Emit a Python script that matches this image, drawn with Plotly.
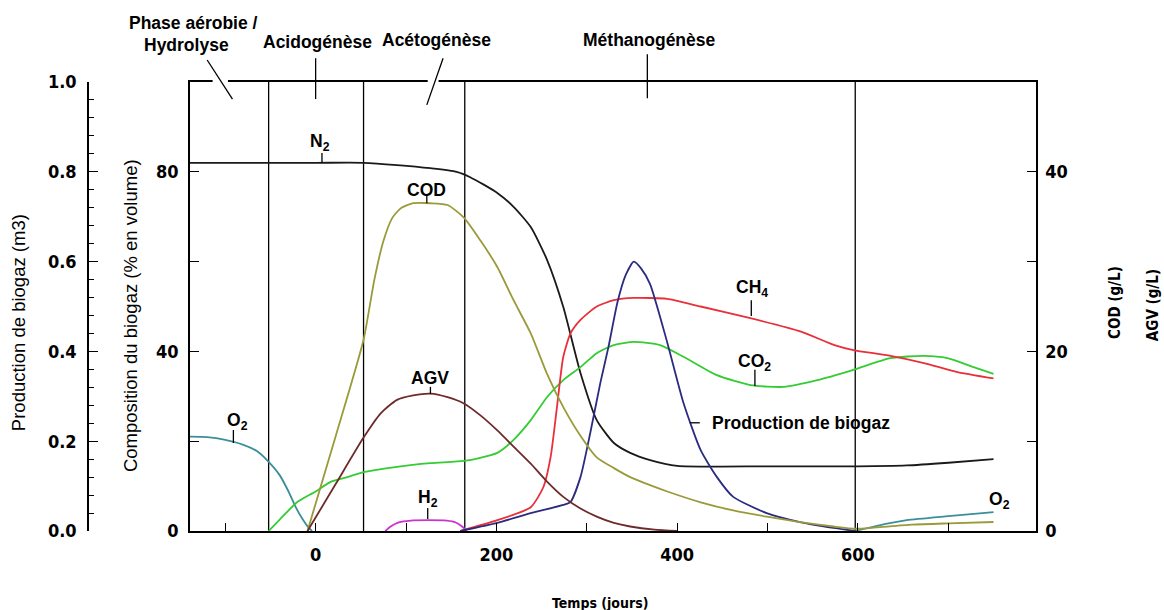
"""Évolution du biogaz dans un casier de décharge"""
import plotly.graph_objects as go

# --- données ---
temps_n2 = [-139, 0, 53, 90, 127, 156, 171, 201, 219, 238, 256, 274, 293, 311, 330, 348, 370, 400, 500, 600, 654, 700, 750]
n2 = [82, 82, 82, 81.5, 80.8, 80, 78.8, 75.3, 72.2, 67.7, 60.4, 49.9, 35.2, 24.7, 19.6, 17.4, 15.8, 14.5, 14.4, 14.4, 14.6, 15.2, 16]

temps_o2 = [-139, -120, -100, -80, -65, -52, -40, -30, -22, -14, -8, -4, None, 597, 620, 654, 700, 750]
o2 = [21, 20.9, 20.3, 19.2, 17.8, 15.4, 12.5, 8.8, 5.3, 2.5, 0.8, 0, None, 0, 1.1, 2.4, 3.3, 4.2]

temps_co2 = [-52, -40, -20, 0, 16, 35, 53, 90, 127, 164, 182, 201, 219, 238, 256, 274, 293, 311, 330, 352,
             381, 407, 444, 481, 518, 555, 595, 636, 673, 699, 728, 750]
co2 = [0, 2.5, 6.5, 8.8, 10.9, 12, 13.1, 14.3, 15.1, 15.6, 16.3, 17.4, 20.3, 24.7, 29.8, 33.6, 36.5, 39.6, 41.4, 42.1,
       41.4, 38.8, 34.7, 32.5, 32.1, 33.6, 35.9, 38.5, 39, 38.5, 36.5, 35]

temps_ch4 = [160, 201, 238, 252, 260, 267, 274, 282, 293, 311, 330, 352, 389, 426, 481, 537, 574, 595, 636, 673, 710, 750]
ch4 = [0, 2.4, 5.3, 9.8, 16.5, 27.6, 38.8, 44, 47, 50, 51.4, 51.9, 51.7, 50, 47.4, 44.4, 41.4, 40.3, 39, 37.4, 35.4, 34]

temps_h2 = [77, 83, 92, 105, 125, 145, 155, 162, 167]
h2 = [0, 1.0, 1.9, 2.3, 2.4, 2.3, 1.9, 1.0, 0]

temps_cod = [-9, 22, 53, 65, 75, 85, 95, 108, 127, 146, 164, 182, 201, 219, 238, 256, 274, 293, 311, 330, 348,
             370, 389, 426, 462, 499, 536, 573, 597, 620, 660, 700, 750]
cod = [0, 10.5, 21.3, 28, 32.3, 34.9, 36, 36.5, 36.5, 36.3, 34.9, 32.4, 29.4, 25.7, 22, 17.5, 13.8, 10.6, 8.2, 7.0, 6.0,
       5.1, 4.4, 3.2, 2.3, 1.6, 1.0, 0.5, 0.25, 0.4, 0.7, 0.85, 1.0]

temps_agv = [-9, 22, 53, 72, 90, 108, 127, 146, 164, 182, 201, 219, 238, 256, 274, 293, 311, 330, 348, 375, 400]
agv = [0, 5.2, 10.4, 13.1, 14.6, 15.1, 15.3, 14.9, 14.2, 12.9, 11.2, 9.4, 7.5, 5.5, 3.8, 2.5, 1.6, 0.9, 0.5, 0.15, 0]

temps_prod = [160, 201, 238, 274, 282, 293, 304, 315, 324, 334, 343, 352, 360, 370, 389, 407, 426, 444, 462, 499, 536, 573, 597]
production = [0, 0.018, 0.04, 0.058, 0.065, 0.12, 0.22, 0.33, 0.41, 0.51, 0.57, 0.6, 0.585, 0.55, 0.42, 0.285, 0.18,
              0.12, 0.076, 0.04, 0.02, 0.007, 0]

limites_phases = [-52, 53, 165, 597]

NARROW = "DejaVu Sans Condensed, Liberation Sans Narrow, Arial Narrow, sans-serif"
SANS = "Liberation Sans, Arial, sans-serif"
TICKFONT = dict(family=NARROW, size=18, color="black", weight="bold")

fig = go.Figure()


def courbe(x, y, color, axis="y", width=1.8):
    fig.add_trace(go.Scatter(
        x=x, y=y, mode="lines", yaxis=axis, showlegend=False, hoverinfo="skip",
        line=dict(color=color, width=width, shape="spline", smoothing=0.6),
        connectgaps=False,
    ))


courbe(temps_n2, n2, "#1a1a1a")
courbe(temps_o2, o2, "#3a8f9a")
courbe(temps_co2, co2, "#33cc33")
courbe(temps_ch4, ch4, "#e8303a")
courbe(temps_h2, h2, "#cc33cc")
courbe(temps_cod, cod, "#9a9a3a", "y3")
courbe(temps_agv, agv, "#6e2a2a", "y3")
courbe(temps_prod, production, "#2b2b80", "y2")

# limites des phases
shapes = [dict(type="line", xref="x", yref="paper", x0=b, x1=b, y0=0, y1=1,
               line=dict(color="black", width=1.3), layer="below") for b in limites_phases]

# repères des phases au-dessus du cadre
shapes += [
    dict(type="line", xref="x", yref="paper", x0=-114, x1=-97, y0=1, y1=1, line=dict(color="white", width=4)),
    dict(type="line", xref="x", yref="paper", x0=124, x1=136, y0=1, y1=1, line=dict(color="white", width=4)),
    dict(type="line", xref="x", yref="paper", x0=-120, x1=-92, y0=1.049, y1=0.962, line=dict(color="black", width=1.3)),
    dict(type="line", xref="x", yref="paper", x0=0, x1=0, y0=1.053, y1=0.962, line=dict(color="black", width=1.3)),
    dict(type="line", xref="x", yref="paper", x0=141, x1=123, y0=1.053, y1=0.949, line=dict(color="black", width=1.3)),
    dict(type="line", xref="x", yref="paper", x0=367, x1=367, y0=1.062, y1=0.964, line=dict(color="black", width=1.3)),
]

# petits traits des étiquettes de courbes
reperes = [(7, 82, 84.2), (123, 73, 74.8), (127, 30.5, 32.1), (124, 2.7, 5.1), (-91, 19.6, 22.5),
           (482, 47.9, 51.4), (486, 32.3, 35.9)]
for x, y0, y1 in reperes:
    shapes.append(dict(type="line", xref="x", yref="y", x0=x, x1=x, y0=y0, y1=y1,
                       line=dict(color="black", width=1.3)))
shapes.append(dict(type="line", xref="x", yref="y", x0=414, x1=425, y0=24.1, y1=24.1,
                   line=dict(color="black", width=1.3)))

LAB = dict(family=SANS, size=17.5, color="black", weight="bold")
annotations = []
for txt, x, y in [("N<sub>2</sub>", 5, 86.6), ("COD", 123, 76), ("AGV", 127, 34.1), ("H<sub>2</sub>", 124, 7.2),
                  ("O<sub>2</sub>", -87, 24.3), ("CH<sub>4</sub>", 483, 53.9), ("CO<sub>2</sub>", 486, 37.6),
                  ("O<sub>2</sub>", 757, 6.8)]:
    annotations.append(dict(text=txt, x=x, y=y, xref="x", yref="y", showarrow=False, font=LAB,
                            xanchor="center", yanchor="middle"))
annotations.append(dict(text="Production de biogaz", x=436, y=24.1, xref="x", yref="y", xanchor="left",
                        yanchor="middle", showarrow=False, font=LAB))

# noms des phases (x en coordonnées papier)
PH = dict(family=SANS, size=17.5, color="black", weight="bold")
for txt, x, y in [("Phase aérobie /", 0.1108, 1.131), ("Hydrolyse", 0.1034, 1.082), ("Acidogénèse", 0.2416, 1.089),
                  ("Acétogénèse", 0.3681, 1.094), ("Méthanogénèse", 0.5928, 1.094)]:
    annotations.append(dict(text=txt, x=x, y=y, xref="paper", yref="paper", showarrow=False, font=PH,
                            xanchor="center", yanchor="middle"))

# titres des axes
TIT = dict(family=SANS, size=18.5, color="black")
TITN = dict(family=NARROW, size=15, color="black", weight="bold")
for txt, x, y, ang, f in [
    ("Production de biogaz (m3)", -0.0738, 0.463, -90, TIT),
    ("Composition du biogaz (% en volume)", 0.0443, 0.481, -90, TIT),
    ("COD (g/L)", 1.0833, 0.51, -90, TITN),
    ("AGV (g/L)", 1.1234, 0.503, -90, TITN),
    ("Temps (jours)", 0.54, -0.16, 0, dict(TITN, size=14)),
]:
    annotations.append(dict(text=txt, x=x, y=y, xref="paper", yref="paper", textangle=ang,
                            showarrow=False, font=f, xanchor="center", yanchor="middle"))

AX = dict(tickcolor="black", tickwidth=1.3, showline=True, linecolor="black", linewidth=1.5,
          showgrid=False, zeroline=False, tickfont=TICKFONT)

fig.update_layout(
    width=1164, height=610,
    margin=dict(l=88, r=128, t=82, b=79),
    plot_bgcolor="white", paper_bgcolor="white",
    showlegend=False,
    shapes=shapes,
    annotations=annotations,
    xaxis=dict(
        domain=[0.1076, 1], range=[-139, 797],
        tickvals=[-100, 0, 100, 200, 300, 400, 500, 600, 700],
        ticktext=["", "0", "", "200", "", "400", "", "600", ""],
        ticks="inside", ticklen=8, mirror=True, ticklabelstandoff=7, **AX,
    ),
    yaxis=dict(
        range=[0, 100], tickvals=[0, 20, 40, 60, 80], ticktext=["0", "", "40", "", "80"],
        ticks="inside", ticklen=9, ticklabelstandoff=6, **AX,
    ),
    yaxis2=dict(
        range=[0, 1], overlaying="y", anchor="free", position=0, side="left",
        tickvals=[0, 0.2, 0.4, 0.6, 0.8, 1.0], tickformat=".1f",
        ticks="inside", ticklen=9, ticklabelstandoff=7,
        minor=dict(dtick=0.04, ticks="inside", ticklen=5, tickcolor="black", tickwidth=1.2),
        **AX,
    ),
    yaxis3=dict(
        range=[0, 50], overlaying="y", anchor="x", side="right",
        tickvals=[0, 10, 20, 30, 40], ticktext=["0", "", "20", "", "40"],
        ticks="inside", ticklen=9, ticklabelstandoff=4, **AX,
    ),
)

# pas de marge de page autour de la figure, pas de barre d'outils
fig.write_html("out.html", config={"displayModeBar": False},
               post_script="document.body.style.margin='0';")
